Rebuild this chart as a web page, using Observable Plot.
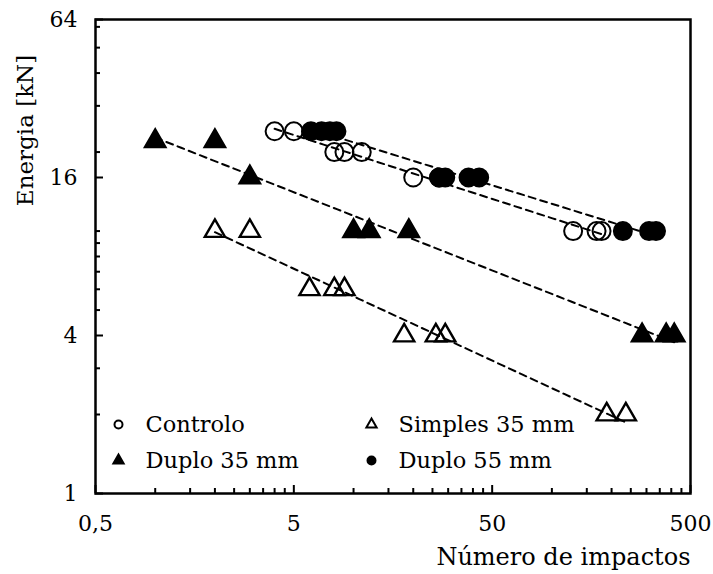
<!DOCTYPE html>
<html><head><meta charset="utf-8">
<script src="https://cdn.jsdelivr.net/npm/d3@7"></script>
<script src="https://cdn.jsdelivr.net/npm/@observablehq/plot@0.6"></script>
<style>body{margin:0;background:#fff}#wrap{position:relative;width:713px;height:574px}#wrap svg{position:absolute;left:0;top:0}</style>
</head><body><div id="wrap"></div>
<script>
// ---- data ----
const seriesNames = ["Controlo", "Simples 35 mm", "Duplo 35 mm", "Duplo 55 mm"];
const controloX = [4, 5, 8, 9, 11, 20, 27, 128, 168, 178];
const controloY = [24, 24, 20, 20, 20, 16, 16, 10, 10, 10];
const simples35X = [2, 3, 6, 8, 9, 18, 26, 29, 189, 236];
const simples35Y = [10, 10, 6, 6, 6, 4, 4, 4, 2, 2];
const duplo35X = [1, 2, 3, 10, 12, 19, 285, 377, 414];
const duplo35Y = [22, 22, 16, 10, 10, 10, 4, 4, 4];
const duplo55X = [6.1, 6.9, 7.6, 8.2, 27, 29, 38, 43, 228, 309, 335];
const duplo55Y = [24, 24, 24, 24, 16, 16, 16, 16, 10, 10, 10];

const xMajorTicks = [0.5, 5, 50, 500];
const xTickLabels = ["0,5", "5", "50", "500"];
const xMinorTicks = [1, 1.5, 2, 2.5, 3, 3.5, 4, 4.5, 10, 15, 20, 25, 30, 35, 40, 45, 100, 150, 200, 250, 300, 350, 400, 450];
const yMajorTicks = [1, 4, 16, 64];
const yTickLabels = ["1", "4", "16", "64"];
const yMinorTicks = [2, 3, 5, 6, 7, 8, 9, 10, 20, 30, 40, 50, 60];
const xLabel = "Número de impactos";
const yLabel = "Energia [kN]";

// ---- layout ----
const W = 713, H = 574, mL = 95, mR = 23, mT = 19, mB = 81;
const frameW = W - mL - mR, frameH = H - mT - mB;
const font = "DejaVu Serif, Georgia, serif";
const xScale = {type: "log", domain: [0.5, 500], axis: null};
const yScale = {type: "log", base: 2, domain: [1, 64], axis: null};

const styles = {
  "Controlo":      {symbol: "circle",   fill: "none",  stroke: "black", r: 9,   sw: 2},
  "Simples 35 mm": {symbol: "triangle", fill: "none",  stroke: "black", r: 7.5, sw: 2.4},
  "Duplo 35 mm":   {symbol: "triangle", fill: "black", stroke: "black", r: 7.8, sw: 2},
  "Duplo 55 mm":   {symbol: "circle",   fill: "black", stroke: "black", r: 9,   sw: 2}
};
const raw = {
  "Controlo": [controloX, controloY],
  "Simples 35 mm": [simples35X, simples35Y],
  "Duplo 35 mm": [duplo35X, duplo35Y],
  "Duplo 55 mm": [duplo55X, duplo55Y]
};
const lookup = (vals, labels) => d => labels[vals.indexOf(d)];

// power-law trend (least squares in log-log space), like Excel's power trendline
function fitLine(name) {
  const [xs, ys] = raw[name];
  const lx = xs.map(Math.log), ly = ys.map(Math.log);
  const mx = d3.mean(lx), my = d3.mean(ly);
  const b = d3.sum(lx, (v, i) => (v - mx) * (ly[i] - my)) / d3.sum(lx, v => (v - mx) ** 2);
  const a = my - b * mx;
  const [x0, x1] = d3.extent(xs);
  return d3.range(0, 21).map(k => {
    const x = Math.exp(Math.log(x0) + (Math.log(x1) - Math.log(x0)) * k / 20);
    return {series: name, x, y: Math.exp(a + b * Math.log(x))};
  });
}
const trend = seriesNames.flatMap(fitLine);

const dotMarks = seriesNames.map(name => {
  const [xs, ys] = raw[name];
  const st = styles[name];
  const pts = xs.map((x, i) => ({x, y: ys[i]}));
  return Plot.dot(pts, {x: "x", y: "y", symbol: st.symbol, r: st.r,
    fill: st.fill, stroke: st.stroke, strokeWidth: st.sw});
});

// legend (inside frame, bottom-left)
const legendPos = [[0, 0], [1, 0], [0, 1], [1, 1]];
const legendMarks = seriesNames.flatMap((name, i) => {
  const [col, row] = legendPos[i];
  const st = styles[name];
  const dx = 23 + col * 253, dy = -69 + row * 36;
  return [
    Plot.dot([name], {frameAnchor: "bottom-left", dx, dy, symbol: st.symbol,
      r: st.symbol === "circle" ? 4 : 3.8, fill: st.fill, stroke: st.stroke, strokeWidth: 2}),
    Plot.text([name], {frameAnchor: "bottom-left", dx: dx + 27, dy, text: d => d,
      textAnchor: "start", lineAnchor: "middle", fontSize: 22.5, fontFamily: font, fill: "black"})
  ];
});

const chart = Plot.plot({
  width: W, height: H,
  marginLeft: mL, marginRight: mR, marginTop: mT, marginBottom: mB,
  style: {fontFamily: font, background: "white"},
  x: xScale, y: yScale,
  marks: [
    Plot.text(xMajorTicks, {x: d => d, frameAnchor: "bottom", dy: 30, text: lookup(xMajorTicks, xTickLabels),
      fontSize: 22, fontFamily: font, fill: "black", lineAnchor: "middle"}),
    Plot.text(yMajorTicks, {y: d => d, frameAnchor: "left", dx: -18, text: lookup(yMajorTicks, yTickLabels),
      fontSize: 22, fontFamily: font, fill: "black", textAnchor: "end", lineAnchor: "middle"}),
    ...dotMarks,
    Plot.line(trend, {x: "x", y: "y", z: "series", stroke: "black", strokeWidth: 2,
      strokeDasharray: "7,5"}),
    Plot.frame({stroke: "black", strokeWidth: 2.5}),
    ...legendMarks,
    Plot.text([yLabel], {frameAnchor: "top-left", dx: -70, dy: 111, rotate: -90, text: d => d,
      textAnchor: "middle", lineAnchor: "middle", fontSize: 23, fontFamily: font, fill: "black"}),
    Plot.text([xLabel], {frameAnchor: "bottom-right", dx: 0, dy: 64, text: d => d,
      textAnchor: "end", lineAnchor: "middle", fontSize: 24, fontFamily: font, fill: "black"})
  ]
});

// inward tick marks: a second, transparent plot with identical scales laid over the first
const ticks = Plot.plot({
  width: W, height: H,
  marginLeft: mL, marginRight: mR, marginTop: mT, marginBottom: mB,
  style: {background: "transparent", overflow: "visible"},
  x: xScale, y: yScale,
  marks: [
    Plot.tickY(yMinorTicks, {y: d => d, insetRight: frameW - 5, stroke: "black", strokeWidth: 2}),
    Plot.tickY(yMajorTicks, {y: d => d, insetRight: frameW - 8, stroke: "black", strokeWidth: 2}),
    Plot.tickX(xMinorTicks, {x: d => d, insetTop: frameH - 5, stroke: "black", strokeWidth: 2}),
    Plot.tickX(xMajorTicks, {x: d => d, insetTop: frameH - 8, stroke: "black", strokeWidth: 2})
  ]
});
ticks.style.pointerEvents = "none";
const wrap = document.getElementById("wrap");
wrap.append(chart);
wrap.append(ticks);
</script></body></html>
